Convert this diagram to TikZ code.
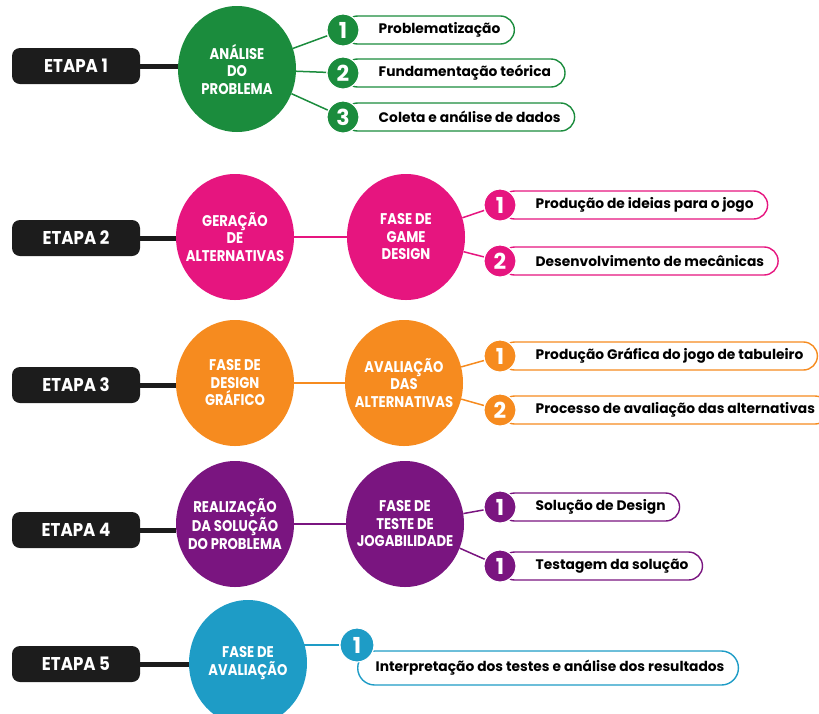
\documentclass[tikz,border=0pt]{standalone}
\usepackage{fontspec}
\setmainfont{Poppins}
\newfontfamily\condfont[FakeStretch=0.85]{Poppins}
\newfontfamily\etfont[FakeStretch=0.9]{Poppins}
\usetikzlibrary{shapes.geometric,backgrounds}
\definecolor{cgreen}{HTML}{1B8C3D}
\definecolor{cpink}{HTML}{E6157F}
\definecolor{corange}{HTML}{F68B1F}
\definecolor{cpurple}{HTML}{7A1580}
\definecolor{cblue}{HTML}{1E9CC6}
\definecolor{cblack}{HTML}{1C1C1C}
\tikzset{
  etapa/.style={fill=cblack, rounded corners=8pt, minimum width=128pt, minimum height=36pt,
    inner sep=0pt, text=white, font=\etfont\bfseries\fontsize{18.5}{20}\selectfont},
  bigc/.style 2 args={ellipse, fill=#1, minimum width=118pt, minimum height=126pt, inner sep=0pt,
    label={[text=white, align=center, inner sep=0pt,
      font=\condfont\bfseries\fontsize{15.5}{17.5}\selectfont]center:#2}},
  numc/.style={circle, fill=#1, draw=white, line width=1.2pt, minimum size=32pt, inner sep=0pt,
    text=white, font=\bfseries\fontsize{22}{22}\selectfont},
  pill/.style={draw=#1, line width=1.4pt, fill=white, rounded corners=14pt, minimum height=28pt,
    anchor=west, inner xsep=14pt, inner ysep=0pt, font=\bfseries\fontsize{13.8}{15}\selectfont},
  link/.style={draw=#1, line width=1.5pt},
  blink/.style={draw=cblack, line width=5pt},
}
\begin{document}
\begin{tikzpicture}[x=1pt,y=-1pt]
\useasboundingbox (0,0) rectangle (819,713);
% ---------------- ETAPA 1
\node[etapa] (e1) at (76,66) {ETAPA 1};
\node[bigc={cgreen}{ANÁLISE\\DO\\PROBLEMA}] (c1) at (237,69) {};
\node[pill=cgreen] (p11) at (343,30) {\hspace*{21pt}Problematização};
\node[numc=cgreen] (n11) at (343,30) {1};
\node[pill=cgreen] (p12) at (343,73) {\hspace*{21pt}Fundamentação teórica};
\node[numc=cgreen] (n12) at (343,73) {2};
\node[pill=cgreen] (p13) at (343,117) {\hspace*{21pt}Coleta e análise de dados};
\node[numc=cgreen] (n13) at (343,117) {3};
% ---------------- ETAPA 2
\node[etapa] (e2) at (76,238) {ETAPA 2};
\node[bigc={cpink}{GERAÇÃO\\DE\\ALTERNATIVAS}] (c2a) at (235,237) {};
\node[bigc={cpink}{FASE DE\\GAME\\DESIGN}] (c2b) at (406,237) {};
\node[pill=cpink] (p21) at (500,205) {\hspace*{21pt}Produção de ideias para o jogo};
\node[numc=cpink] (n21) at (500,205) {1};
\node[pill=cpink] (p22) at (500,261) {\hspace*{21pt}Desenvolvimento de mecânicas};
\node[numc=cpink] (n22) at (500,261) {2};
% ---------------- ETAPA 3
\node[etapa] (e3) at (76,385) {ETAPA 3};
\node[bigc={corange}{FASE DE\\DESIGN\\GRÁFICO}] (c3a) at (235,383) {};
\node[bigc={corange}{AVALIAÇÃO\\DAS\\ALTERNATIVAS}] (c3b) at (404,383) {};
\node[pill=corange] (p31) at (500,356) {\hspace*{21pt}Produção Gráfica do jogo de tabuleiro};
\node[numc=corange] (n31) at (500,356) {1};
\node[pill=corange] (p32) at (500,410) {\hspace*{21pt}Processo de avaliação das alternativas};
\node[numc=corange] (n32) at (500,410) {2};
% ---------------- ETAPA 4
\node[etapa] (e4) at (76,530) {ETAPA 4};
\node[bigc={cpurple}{REALIZAÇÃO\\DA SOLUÇÃO\\DO PROBLEMA}] (c4a) at (235,524) {};
\node[bigc={cpurple}{FASE DE\\TESTE DE\\JOGABILIDADE}] (c4b) at (405,524) {};
\node[pill=cpurple] (p41) at (500,507) {\hspace*{21pt}Solução de Design};
\node[numc=cpurple] (n41) at (500,507) {1};
\node[pill=cpurple] (p42) at (500,566) {\hspace*{21pt}Testagem da solução};
\node[numc=cpurple] (n42) at (500,566) {1};
% ---------------- ETAPA 5
\node[etapa] (e5) at (76,664) {ETAPA 5};
\node[bigc={cblue}{FASE DE\\AVALIAÇÃO}] (c5) at (248,663) {};
\node[pill=cblue, minimum height=34pt, rounded corners=17pt] (p51) at (357,668) {\hspace*{4pt}Interpretação dos testes e análise dos resultados};
\node[numc=cblue, minimum size=34pt] (n51) at (357,645) {1};
% ---------------- connectors
\begin{scope}[on background layer]
\draw[blink] (e1) -- (c1.west |- e1);
\draw[link=cgreen] (c1) -- (n11);
\draw[link=cgreen] (c1) -- (n12);
\draw[link=cgreen] (c1) -- (n13);
\draw[blink] (e2) -- (c2a.west |- e2);
\draw[link=cpink] (c2a) -- (c2b);
\draw[link=cpink] (c2b) -- (n21);
\draw[link=cpink] (c2b) -- (n22);
\draw[blink] (e3) -- (c3a.west |- e3);
\draw[link=corange] (c3a) -- (c3b);
\draw[link=corange] (c3b) -- (n31);
\draw[link=corange] (c3b) -- (n32);
\draw[blink] (e4) -- (c4a.west |- e4);
\draw[link=cpurple] (c4a) -- (c4b);
\draw[link=cpurple] (c4b) -- (n41);
\draw[link=cpurple] (c4b) -- (n42);
\draw[blink] (e5) -- (c5.west |- e5);
\draw[link=cblue] (c5.center |- n51) -- (n51);
\end{scope}
\end{tikzpicture}
\end{document}
